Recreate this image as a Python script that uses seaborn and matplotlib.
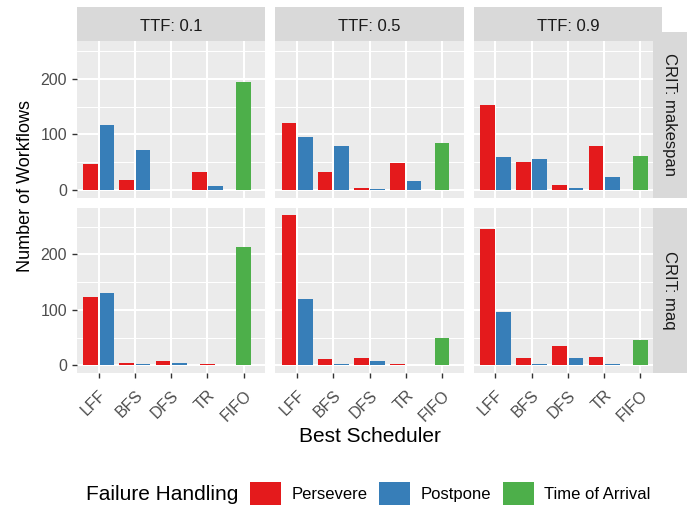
import numpy as np
import pandas as pd
import matplotlib
matplotlib.use("Agg")
import matplotlib.pyplot as plt
from matplotlib.patches import Rectangle, Patch
from matplotlib.ticker import FixedLocator
import seaborn as sns
import seaborn.objects as so

# ---- data -------------------------------------------------------------
schedulers = ["LFF", "BFS", "DFS", "TR", "FIFO"]
handling = ["Persevere", "Postpone", "Time of Arrival"]
ttf_levels = ["0.1", "0.5", "0.9"]
crit_levels = ["makespan", "maq"]

# rows: TTF 0.1 / 0.5 / 0.9 ; columns: LFF, BFS, DFS, TR  (nan = no bar)
persevere_makespan = [[47, 18, 0, 32], [120, 32, 4, 48], [153, 50, 9, 79]]
postpone_makespan = [[117, 72, 0, 8], [95, 79, 2, 16], [59, 56, 4, 23]]
arrival_makespan = [194, 84, 61]          # FIFO only

persevere_maq = [[123, 5, 8, 3], [271, 12, 14, 3], [245, 14, 35, 16]]
postpone_maq = [[130, 3, 5, np.nan], [120, 3, 8, 1], [96, 3, 14, 3]]
arrival_maq = [213, 50, 46]               # FIFO only

palette = {"Persevere": "#E41A1C", "Postpone": "#377EB8",
           "Time of Arrival": "#4DAF4A"}

# ---- long table -------------------------------------------------------
records = []
series = {
    "makespan": (persevere_makespan, postpone_makespan, arrival_makespan),
    "maq": (persevere_maq, postpone_maq, arrival_maq),
}
for crit, (pers, post, arr) in series.items():
    for i, ttf in enumerate(ttf_levels):
        for j, sched in enumerate(schedulers[:4]):
            records.append((crit, ttf, sched, "Persevere", pers[i][j]))
            records.append((crit, ttf, sched, "Postpone", post[i][j]))
        records.append((crit, ttf, "FIFO", "Time of Arrival", arr[i]))
df = pd.DataFrame(records, columns=["CRIT", "TTF", "Scheduler", "Handling", "Workflows"])
df = df.dropna().reset_index(drop=True)

# ---- style ------------------------------------------------------------
FONT = "Liberation Sans"
plt.rcParams["font.family"] = FONT
W, H = 700, 508

theme = {
    "font.family": FONT,
    "axes.facecolor": "#EBEBEB",
    "axes.edgecolor": "none",
    "axes.grid": True,
    "grid.color": "white",
    "figure.facecolor": "white",
    "xtick.bottom": True,
    "ytick.left": True,
    "xtick.color": "#333333",
    "ytick.color": "#333333",
    "xtick.labelcolor": "#4D4D4D",
    "ytick.labelcolor": "#4D4D4D",
    "xtick.labelsize": 11.5,
    "ytick.labelsize": 11.5,
}

fig = plt.figure(figsize=(W / 100, H / 100), dpi=100)

(
    so.Plot(df, x="Scheduler", y="Workflows", color="Handling")
    .facet(col="TTF", row="CRIT", order={"col": ttf_levels, "row": crit_levels})
    .add(so.Bar(width=1.35, edgewidth=0, alpha=1), so.Dodge(empty="drop", gap=0.1))
    .scale(x=so.Nominal(order=schedulers), color=so.Nominal(palette, order=handling))
    .label(x="", y="")
    .theme(theme)
    .on(fig)
    .plot()
)

fig.legends.clear()
fig.subplots_adjust(left=77 / W, right=662 / W, top=1 - 32 / H, bottom=1 - 373 / H,
                    wspace=10 / 188, hspace=10 / 165.5)

ymax = df["Workflows"].max()
axes = np.array(fig.axes).reshape(2, 3)
for r in range(2):
    for c in range(3):
        ax = axes[r, c]
        ax.set_title("")
        ax.set_xlabel("")
        ax.set_ylabel("")
        ax.set_facecolor("#EBEBEB")
        for sp in ax.spines.values():
            sp.set_visible(False)
        ax.set_xlim(-0.6, 4.6)
        ax.set_ylim(-0.05 * ymax, 1.05 * ymax)
        ax.yaxis.set_major_locator(FixedLocator([0, 100, 200]))
        ax.yaxis.set_minor_locator(FixedLocator([50, 150, 250]))
        ax.set_axisbelow(True)
        ax.grid(which="major", color="white", linewidth=1.5)
        ax.grid(which="minor", axis="y", color="white", linewidth=0.75)
        ax.xaxis.grid(True, which="major", color="white", linewidth=1.5)
        ax.tick_params(which="minor", length=0)
        ax.tick_params(axis="both", which="major", length=3.6, width=1.0,
                       color="#333333", pad=3.6)
        ax.tick_params(axis="y", labelsize=11.5, labelcolor="#4D4D4D",
                       left=(c == 0), labelleft=(c == 0))
        ax.tick_params(axis="x", labelsize=11.5, labelcolor="#4D4D4D",
                       bottom=(r == 1), labelbottom=(r == 1), labelrotation=45, pad=7)
        if r == 1:
            plt.setp(ax.get_xticklabels(), ha="right", rotation_mode="anchor")

# ---- facet strips -----------------------------------------------------
strip_color = "#D9D9D9"
for c, ttf in enumerate(ttf_levels):
    bb = axes[0, c].get_position()
    y0, y1 = 1 - 41 / H, 1 - 7 / H
    fig.add_artist(Rectangle((bb.x0, y0), bb.width, y1 - y0, transform=fig.transFigure,
                             facecolor=strip_color, edgecolor="none", zorder=2))
    fig.text((bb.x0 + bb.x1) / 2, 1 - 30.7 / H, f"TTF: {ttf}", ha="center",
             va="baseline", fontsize=12, color="#1A1A1A", zorder=3)

for r, crit in enumerate(crit_levels):
    bb = axes[r, 2].get_position()
    x0, x1 = 653 / W, 687 / W
    fig.add_artist(Rectangle((x0, bb.y0), x1 - x0, bb.height, transform=fig.transFigure,
                             facecolor=strip_color, edgecolor="none", zorder=2))
    fig.text(670 / W, (bb.y0 + bb.y1) / 2, f"CRIT: {crit}", rotation=-90,
             ha="center", va="center", fontsize=12, color="#1A1A1A", zorder=3)

# ---- axis titles ------------------------------------------------------
fig.text(369.5 / W, 1 - 442 / H, "Best Scheduler", ha="center", va="baseline",
         fontsize=15, color="black")
fig.text(26 / W, 1 - 186 / H, "Number of Workflows", rotation=90, ha="center",
         va="center", fontsize=13, color="black")

# ---- legend -----------------------------------------------------------
handles = [Patch(facecolor=palette[h], edgecolor="none") for h in handling]
fig.legend(handles, handling, loc="center left", bbox_to_anchor=(250 / W, 1 - 493.5 / H),
           ncol=3, frameon=False, fontsize=12, handlelength=1.86, handleheight=1.74,
           handletextpad=0.66, columnspacing=0.66, borderpad=0, borderaxespad=0)
fig.text(86 / W, 1 - 500.5 / H, "Failure Handling", ha="left", va="baseline",
         fontsize=15, color="black")

fig.savefig("out.png", dpi=100)
